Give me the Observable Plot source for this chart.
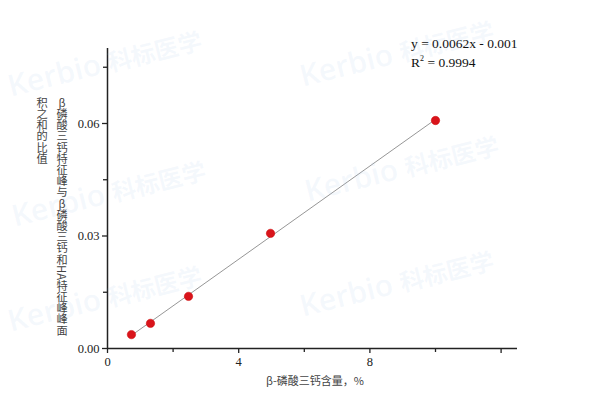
<!DOCTYPE html>
<html><head><meta charset="utf-8">
<script src="https://cdn.jsdelivr.net/npm/d3@7"></script>
<script src="https://cdn.jsdelivr.net/npm/@observablehq/plot@0.6"></script>
<style>
body{margin:0;background:#fff;}
#wrap{position:relative;width:600px;height:418px;overflow:hidden;background:#fff;}
#chart{position:absolute;left:0;top:0;}
#chart svg text{font-family:"Liberation Serif",serif;}
.ylab{position:absolute;left:32px;top:97px;width:40px;writing-mode:vertical-rl;text-orientation:upright;white-space:nowrap;font-family:"Noto Sans CJK SC",sans-serif;font-size:11.2px;line-height:20px;color:#444;}
.ylab .side{text-orientation:sideways;}
.wm{position:absolute;font-family:"Open Sans",sans-serif;font-weight:600;font-size:30px;color:rgba(170,200,235,0.13);transform:rotate(-14deg);transform-origin:left center;white-space:nowrap;pointer-events:none;}
.wm span{font-family:"Noto Sans CJK SC";font-size:24px;}
.eq{position:absolute;left:411px;font-family:"Liberation Serif",serif;font-size:13.5px;color:#111;}
.xlab{position:absolute;left:0;width:630px;text-align:center;top:372px;font-family:"Noto Sans CJK SC",sans-serif;font-size:11px;color:#444;}
</style></head>
<body><div id="wrap"><div id="chart"></div></div>
<script>
const content = [0.73, 1.31, 2.47, 4.97, 10.0];
const ratio = [0.0037, 0.0067, 0.0139, 0.0307, 0.0608];
const xMajorTicks = [0, 4, 8, 12];
const xTickLabels = ["0", "4", "8", ""];
const xMinorTicks = [2, 6, 10];
const yMajorTicks = [0, 0.03, 0.06];
const yTickLabels = ["0.00", "0.03", "0.06"];
const yMinorTicks = [0.015, 0.045, 0.075];
const equationText = "y = 0.0062x - 0.001";
const r2Text = "0.9994";
const xLabel = "β-磷酸三钙含量，%";
const yLabelCol1 = "β磷酸三钙特征峰与β磷酸三钙和";
const yLabelHA = "HA";
const yLabelCol1b = "特征峰峰面";
const yLabelCol2 = "积之和的比值";
const watermark = "Kerbio";
const watermarkCn = "科标医学";

const data = content.map((x, i) => ({x, y: ratio[i]}));
const font = "Liberation Serif";

const plot = Plot.plot({
  width: 600, height: 418,
  marginLeft: 107, marginRight: 83, marginTop: 48, marginBottom: 70,
  style: {fontFamily: "'Liberation Serif', serif", fontSize: "12.5px", color: "#222", background: "transparent"},
  x: {domain: [0, 12.5], axis: null},
  y: {domain: [0, 0.08], axis: null},
  marks: [
    Plot.axisX({ticks: xMajorTicks, tickSize: 5, tickPadding: 4, tickFormat: (d, i) => xTickLabels[i], label: null, stroke: "#222", strokeWidth: 1.3, fontSize: 12.5, fontFamily: font}),
    Plot.axisX({ticks: xMinorTicks, tickSize: 4, text: null, label: null, stroke: "#222", strokeWidth: 1.3}),
    Plot.axisY({ticks: yMajorTicks, tickSize: 5, tickPadding: 3, tickFormat: (d, i) => yTickLabels[i], label: null, stroke: "#222", strokeWidth: 1.3, fontSize: 12.5, fontFamily: font}),
    Plot.axisY({ticks: yMinorTicks, tickSize: 4, text: null, label: null, stroke: "#222", strokeWidth: 1.3}),
    Plot.ruleY([0], {stroke: "#222", strokeWidth: 1.5}),
    Plot.ruleX([0], {stroke: "#222", strokeWidth: 1.5}),
    Plot.linearRegressionY(data, {x: "x", y: "y", ci: 0, stroke: "#8a8a8a", strokeWidth: 0.9}),
    Plot.dot(data, {x: "x", y: "y", r: 4.2, fill: "#d9141b", stroke: "#c00", strokeWidth: 0.5})
  ]
});
document.getElementById("chart").appendChild(plot);

const wrap = document.getElementById("wrap");
[[8, 85], [300, 75], [305, 190], [12, 215], [8, 320], [300, 305]].forEach(([l, t]) => {
  const d = document.createElement("div");
  d.className = "wm";
  d.style.left = l + "px"; d.style.top = (t - 20) + "px";
  d.innerHTML = watermark + " <span>" + watermarkCn + "</span>";
  wrap.appendChild(d);
});

const yl = document.createElement("div");
yl.className = "ylab";
yl.innerHTML = yLabelCol1 + '<span class="side">' + yLabelHA + '</span>' + yLabelCol1b + "<br>" + yLabelCol2;
wrap.appendChild(yl);

const e1 = document.createElement("div");
e1.className = "eq"; e1.style.top = "36px"; e1.textContent = equationText;
wrap.appendChild(e1);
const e2 = document.createElement("div");
e2.className = "eq"; e2.style.top = "55px";
e2.innerHTML = 'R<sup style="font-size:8px;vertical-align:6px;line-height:0">2</sup> = ' + r2Text;
wrap.appendChild(e2);

const xl = document.createElement("div");
xl.className = "xlab"; xl.textContent = xLabel;
wrap.appendChild(xl);
</script></body></html>
